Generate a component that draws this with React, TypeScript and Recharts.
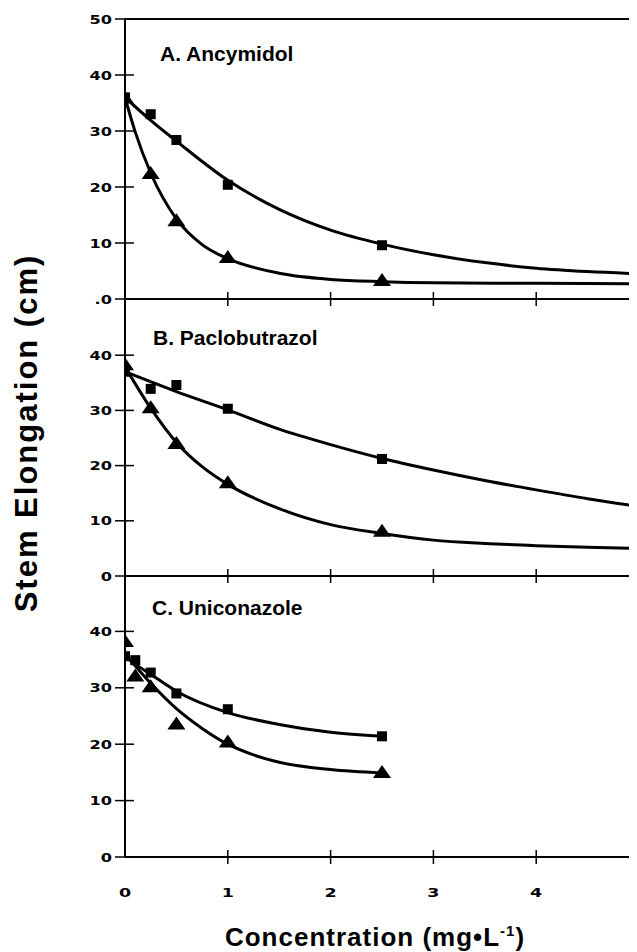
import { ComposedChart, Line, Scatter, XAxis, YAxis, ReferenceLine } from "recharts";

// concentrations (mg/L)
const concAB = [0, 0.25, 0.5, 1, 2.5];
const concABTri = [0, 0.25, 0.5, 1, 2.5, 5];
const concC = [0, 0.1, 0.25, 0.5, 1, 2.5];

// A. Ancymidol
const ancySquare = [36, 33.0, 28.4, 20.4, 9.6];
const ancyTriangle = [35.8, 22.3, 13.9, 7.3, 3.2, 2.0];
const ancySquareFitX = [0, 0.25, 0.5, 1, 1.5, 2, 2.5, 3, 3.5, 4, 4.5, 5];
const ancySquareFitY = [36, 31.9, 28.2, 21.2, 16.0, 12.3, 9.8, 7.9, 6.5, 5.5, 4.9, 4.5];
const ancyTriFitX = [0, 0.1, 0.25, 0.5, 0.75, 1, 1.5, 2, 2.5, 3, 4, 5];
const ancyTriFitY = [36, 29.8, 22.5, 14.3, 9.7, 7.2, 4.6, 3.5, 3.1, 2.9, 2.8, 2.7];

// B. Paclobutrazol
const pacloSquare = [37.0, 33.9, 34.6, 30.3, 21.2];
const pacloTriangle = [38.2, 30.4, 23.9, 16.8, 8.0, 4.5];
const pacloSquareFitX = [0, 0.5, 1, 1.5, 2, 2.5, 3, 3.5, 4, 4.5, 5];
const pacloSquareFitY = [37.0, 33.4, 30.1, 26.6, 23.8, 21.3, 19.2, 17.3, 15.6, 14.0, 12.6];
const pacloTriFitX = [0, 0.25, 0.5, 0.75, 1, 1.5, 2, 2.5, 3, 3.5, 4, 4.5, 5];
const pacloTriFitY = [37.9, 30.4, 24.2, 19.8, 16.6, 12.2, 9.3, 7.7, 6.5, 5.9, 5.5, 5.2, 5.0];

// C. Uniconazole
const uniSquare = [35.6, 34.9, 32.7, 29.0, 26.2, 21.4];
const uniTriangle = [38.1, 32.0, 30.1, 23.5, 20.3, 14.9];
const uniSquareFitX = [0, 0.1, 0.25, 0.5, 1, 1.5, 2, 2.5];
const uniSquareFitY = [35.6, 34.2, 32.4, 29.4, 25.6, 23.5, 22.1, 21.4];
const uniTriFitX = [0, 0.25, 0.5, 0.75, 1, 1.25, 1.5, 2, 2.5];
const uniTriFitY = [36, 30.8, 26.3, 22.8, 20.0, 18.1, 16.8, 15.5, 14.9];

const xTicks = [0, 1, 2, 3, 4, 5];
const yTicksA = [0, 10, 20, 30, 40, 50];
const yTicksBC = [0, 10, 20, 30, 40];
const yLabelsA: Record<number, string> = { 0: ".0", 10: "10", 20: "20", 30: "30", 40: "40", 50: "50" };
const yLabelsBC: Record<number, string> = { 0: "0", 10: "10", 20: "20", 30: "30", 40: "40" };

const FONT = '"Liberation Sans", Arial, sans-serif';
const TICK_FONT = '"DejaVu Sans", sans-serif';

const pts = (xs: number[], ys: number[]) => xs.map((x, i) => ({ x, y: ys[i] }));

const SquareMark = (p: any) => (
  <rect x={p.cx - 5} y={p.cy - 5} width={10} height={10} fill="#000" />
);
const TriangleMark = (p: any) => (
  <polygon
    points={`${p.cx},${p.cy - 8} ${p.cx - 9},${p.cy + 5} ${p.cx + 9},${p.cy + 5}`}
    fill="#000"
  />
);

const XTick = (props: any) => {
  const { x, y, payload, showLabel } = props;
  return (
    <g>
      {payload.value > 0 && (
        <line x1={x} x2={x} y1={y - 7} y2={y + 7} stroke="#000" strokeWidth={1.5} />
      )}
      {showLabel && (
        <text
          transform={`translate(${x},${y + 40}) scale(1.4,1)`}
          textAnchor="middle"
          fontFamily={TICK_FONT}
          fontWeight="bold"
          fontSize={12.5}
          fill="#000"
        >
          {payload.value}
        </text>
      )}
    </g>
  );
};

const YTick = (props: any) => {
  const { x, y, payload, labels } = props;
  const label = labels[payload.value];
  return (
    <g>
      <line
        x1={x - 10}
        x2={payload.value === 50 || payload.value === 0 ? x : x + 9}
        y1={y}
        y2={y}
        stroke="#000"
        strokeWidth={1.5}
      />
      {label && (
        <text
          transform={`translate(${x - 13},${y + 4.5}) scale(1.35,1)`}
          textAnchor="end"
          fontFamily={TICK_FONT}
          fontWeight="bold"
          fontSize={12}
          fill="#000"
        >
          {label}
        </text>
      )}
    </g>
  );
};

type PanelProps = {
  top: number;
  height: number;
  marginTop: number;
  xAxisHeight: number;
  squares: { x: number; y: number }[];
  triangles: { x: number; y: number }[];
  squareFit: { x: number; y: number }[];
  triangleFit: { x: number; y: number }[];
  yTicks: number[];
  yLabels: Record<number, string>;
  showXLabels?: boolean;
  topLine?: boolean;
};

function Panel(p: PanelProps) {
  return (
    <div style={{ position: "absolute", left: 0, top: p.top }}>
      <ComposedChart
        width={660}
        height={p.height}
        margin={{ top: p.marginTop, right: 29, bottom: 0, left: 77 }}
      >
        <XAxis
          type="number"
          dataKey="x"
          domain={[0, 5]}
          ticks={xTicks}
          interval={0}
          allowDataOverflow
          height={p.xAxisHeight}
          axisLine={{ stroke: "#000", strokeWidth: 2 }}
          tickLine={false}
          tickSize={0}
          tickMargin={0}
          tick={(t: any) => <XTick {...t} showLabel={p.showXLabels} />}
        />
        <YAxis
          type="number"
          domain={[0, 50]}
          ticks={p.yTicks}
          interval={0}
          width={40}
          axisLine={{ stroke: "#000", strokeWidth: 2 }}
          tickLine={false}
          tickSize={0}
          tickMargin={0}
          tick={(t: any) => <YTick {...t} labels={p.yLabels} />}
        />
        {p.topLine && <ReferenceLine y={50} stroke="#000" strokeWidth={2} />}
        <Line
          data={p.squareFit}
          dataKey="y"
          type="monotone"
          stroke="#000"
          strokeWidth={3}
          dot={false}
          activeDot={false}
          isAnimationActive={false}
        />
        <Line
          data={p.triangleFit}
          dataKey="y"
          type="monotone"
          stroke="#000"
          strokeWidth={3}
          dot={false}
          activeDot={false}
          isAnimationActive={false}
        />
        <Scatter data={p.squares} dataKey="y" shape={SquareMark} isAnimationActive={false} />
        <Scatter data={p.triangles} dataKey="y" shape={TriangleMark} isAnimationActive={false} />
      </ComposedChart>
    </div>
  );
}

export default function App() {
  return (
    <div style={{ position: "relative", width: 629, height: 944, overflow: "hidden", background: "#fff" }}>
      <Panel
        top={0}
        height={305}
        marginTop={11}
        xAxisHeight={14}
        squares={pts(concAB, ancySquare)}
        triangles={pts(concABTri, ancyTriangle)}
        squareFit={pts(ancySquareFitX, ancySquareFitY)}
        triangleFit={pts(ancyTriFitX, ancyTriFitY)}
        yTicks={yTicksA}
        yLabels={yLabelsA}
        topLine
      />
      <Panel
        top={282}
        height={300}
        marginTop={10}
        xAxisHeight={14}
        squares={pts(concAB, pacloSquare)}
        triangles={pts(concABTri, pacloTriangle)}
        squareFit={pts(pacloSquareFitX, pacloSquareFitY)}
        triangleFit={pts(pacloTriFitX, pacloTriFitY)}
        yTicks={yTicksBC}
        yLabels={yLabelsBC}
      />
      <Panel
        top={557}
        height={342}
        marginTop={10}
        xAxisHeight={50}
        squares={pts(concC, uniSquare)}
        triangles={pts(concC, uniTriangle)}
        squareFit={pts(uniSquareFitX, uniSquareFitY)}
        triangleFit={pts(uniTriFitX, uniTriFitY)}
        yTicks={yTicksBC}
        yLabels={yLabelsBC}
        showXLabels
      />
      <svg
        width={629}
        height={944}
        style={{ position: "absolute", left: 0, top: 0, pointerEvents: "none" }}
        fontFamily={FONT}
        fontWeight="bold"
        fill="#000"
      >
        <text x={152} y={53} fontSize={21}>A. Ancymidol</text>
        <text x={145} y={337} fontSize={21}>B. Paclobutrazol</text>
        <text x={144} y={607} fontSize={21}>C. Uniconazole</text>
        <text
          transform="translate(29,425) rotate(-90)"
          textAnchor="middle"
          fontSize={31}
          letterSpacing={2}
        >
          Stem Elongation (cm)
        </text>
        <text x={367} y={938} textAnchor="middle" fontSize={26} letterSpacing={1}>
          Concentration (mg•L
          <tspan dy={-10} fontSize={15}>-1</tspan>
          <tspan dy={10}>)</tspan>
        </text>
      </svg>
    </div>
  );
}
